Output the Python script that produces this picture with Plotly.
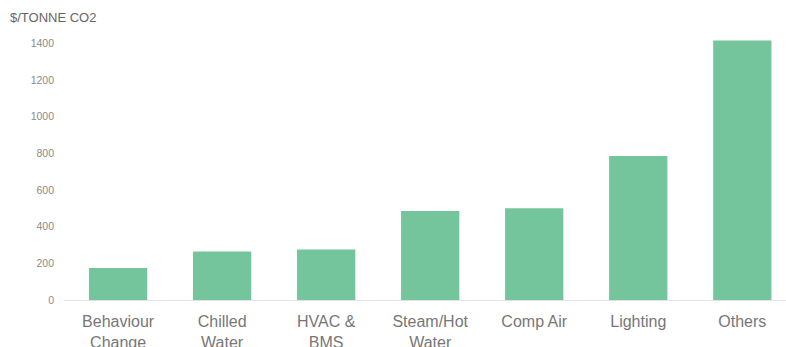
import plotly.graph_objects as go

# Abatement cost by measure category ($ per tonne CO2)
categories = ["Behaviour<br>Change", "Chilled<br>Water", "HVAC &<br>BMS",
              "Steam/Hot<br>Water", "Comp Air", "Lighting", "Others"]
cost_per_tonne = [175, 265, 275, 485, 500, 785, 1415]
y_ticks = [0, 200, 400, 600, 800, 1000, 1200, 1400]

BAR_COLOR = "#74c59c"
FONT = "Liberation Sans, Arial, sans-serif"

fig = go.Figure(
    go.Bar(
        x=categories,
        y=cost_per_tonne,
        marker=dict(color=BAR_COLOR, line=dict(width=0)),
        width=0.56,
    )
)

fig.update_layout(
    width=786,
    height=347,
    margin=dict(l=64, r=0, t=34, b=47),
    paper_bgcolor="white",
    plot_bgcolor="white",
    showlegend=False,
    font=dict(family=FONT, color="#777"),
    xaxis=dict(
        type="category",
        range=[-0.52, 6.42],
        automargin=False,
        showgrid=False,
        showline=True,
        linecolor="#e2e2e2",
        linewidth=1,
        ticks="",
        ticklabelstandoff=7,
        tickfont=dict(size=16, color="#777", family=FONT),
        fixedrange=True,
    ),
    yaxis=dict(
        range=[0, 1450],
        automargin=False,
        tickvals=y_ticks,
        showgrid=False,
        zeroline=False,
        showline=False,
        ticks="",
        ticklabelstandoff=9,
        tickfont=dict(size=10.5, color="#8a8a8a", family=FONT),
        fixedrange=True,
    ),
    annotations=[
        dict(
            text="$/TONNE CO2",
            xref="paper", yref="paper",
            x=(8 - 64) / 722, y=1 + 17 / 266,
            xanchor="left", yanchor="middle",
            showarrow=False,
            font=dict(size=13, color="#666", family=FONT),
        )
    ],
)

fig.write_html("out.html")
